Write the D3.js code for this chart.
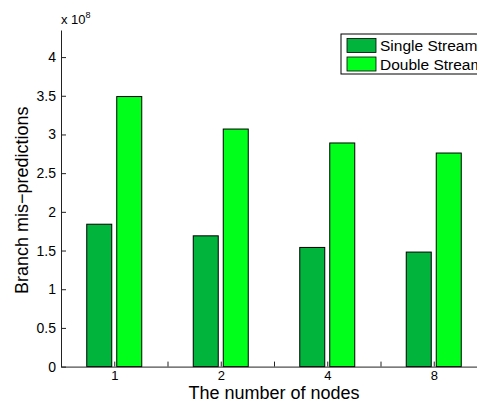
<!DOCTYPE html>
<html>
<head>
<meta charset="utf-8">
<script src="https://cdn.jsdelivr.net/npm/d3@7"></script>
<style>
body { margin:0; background:#fff; }
text { font-family: "Liberation Sans", Arial, sans-serif; fill:#000; }
</style>
</head>
<body>
<div id="chart"></div>
<script>
//data
var nodes = ["1", "2", "4", "8"];
var seriesNames = ["Single Stream", "Double Stream"];
var singleStream = [1.84, 1.69, 1.54, 1.48]; // x 10^8
var doubleStream = [3.49, 3.07, 2.89, 2.76];
var yTicks = [0, 0.5, 1, 1.5, 2, 2.5, 3, 3.5, 4];

//layout (note: "top" is reserved on window, so use plot* names)
var W = 477, H = 402,
    plotLeft = 61, plotBottom = 366.6, plotTop = 30,
    step = 106.5, barW = 25, off = 15;

var colors = ["#00b43c", "#00ff1a"];

var svg = d3.select("#chart").append("svg")
    .attr("width", W).attr("height", H);

//scales
var x = d3.scaleLinear().domain([0.5, 4.5]).range([plotLeft, plotLeft + 4 * step]);
var y = d3.scaleLinear().domain([0, 4.35]).range([plotBottom, plotTop]);

//bars
var series = [singleStream, doubleStream];
series.forEach(function(vals, s) {
    svg.append("g").selectAll("rect")
        .data(vals)
        .enter().append("rect")
        .attr("x", function(d, i) { return x(i + 1) + (s === 0 ? -off : off) - barW / 2; })
        .attr("y", function(d) { return y(d); })
        .attr("width", barW)
        .attr("height", function(d) { return plotBottom - y(d); })
        .attr("fill", colors[s])
        .attr("stroke", "#000")
        .attr("stroke-width", 1);
});

//y axis, ticks inward like matlab
var yAxis = d3.axisLeft(y).tickValues(yTicks).tickSizeInner(-5).tickSizeOuter(0)
    .tickPadding(5).tickFormat(d3.format("~g"));
var gy = svg.append("g").attr("transform", "translate(" + plotLeft + ",0)").call(yAxis);
gy.select(".domain").attr("stroke", "#222");
gy.selectAll(".tick line").attr("stroke", "#222");
gy.selectAll("text").style("font-size", "14px").attr("fill", "#000");

//x axis
var xAxis = d3.axisBottom(x).tickValues([1, 1.5, 2, 2.5, 3, 3.5, 4, 4.5])
    .tickSizeInner(-5).tickSizeOuter(0).tickPadding(4)
    .tickFormat(function(d) { return Number.isInteger(d) ? nodes[d - 1] : ""; });
var gx = svg.append("g").attr("transform", "translate(0," + plotBottom + ")").call(xAxis);
gx.select(".domain").attr("stroke", "#222");
gx.selectAll(".tick line").attr("stroke", "#222");
gx.selectAll("text").style("font-size", "13px").attr("fill", "#000");

//exponent label
var ex = svg.append("text").attr("x", plotLeft).attr("y", 24).style("font-size", "13px");
ex.append("tspan").text("x 10");
ex.append("tspan").attr("dy", -6).style("font-size", "9px").text("8");

//axis titles
svg.append("text")
    .attr("transform", "translate(28," + ((plotTop + plotBottom) / 2 + 2) + ") rotate(-90)")
    .attr("text-anchor", "middle")
    .style("font-size", "18px")
    .text("Branch mis\u2212predictions");

svg.append("text")
    .attr("x", x(2.5)).attr("y", 399)
    .attr("text-anchor", "middle")
    .style("font-size", "18px")
    .text("The number of nodes");

//legend
var lg = svg.append("g").attr("transform", "translate(341,34)");
lg.append("rect").attr("width", 150).attr("height", 40)
    .attr("fill", "#fff").attr("stroke", "#000");
seriesNames.forEach(function(n, i) {
    lg.append("rect").attr("x", 6).attr("y", 4.5 + i * 18.5).attr("width", 29).attr("height", 14)
        .attr("fill", colors[i]).attr("stroke", "#000").attr("stroke-width", 0.8);
    lg.append("text").attr("x", 39).attr("y", 17 + i * 18.5)
        .style("font-size", "15.5px").text(n);
});
</script>
</body>
</html>
